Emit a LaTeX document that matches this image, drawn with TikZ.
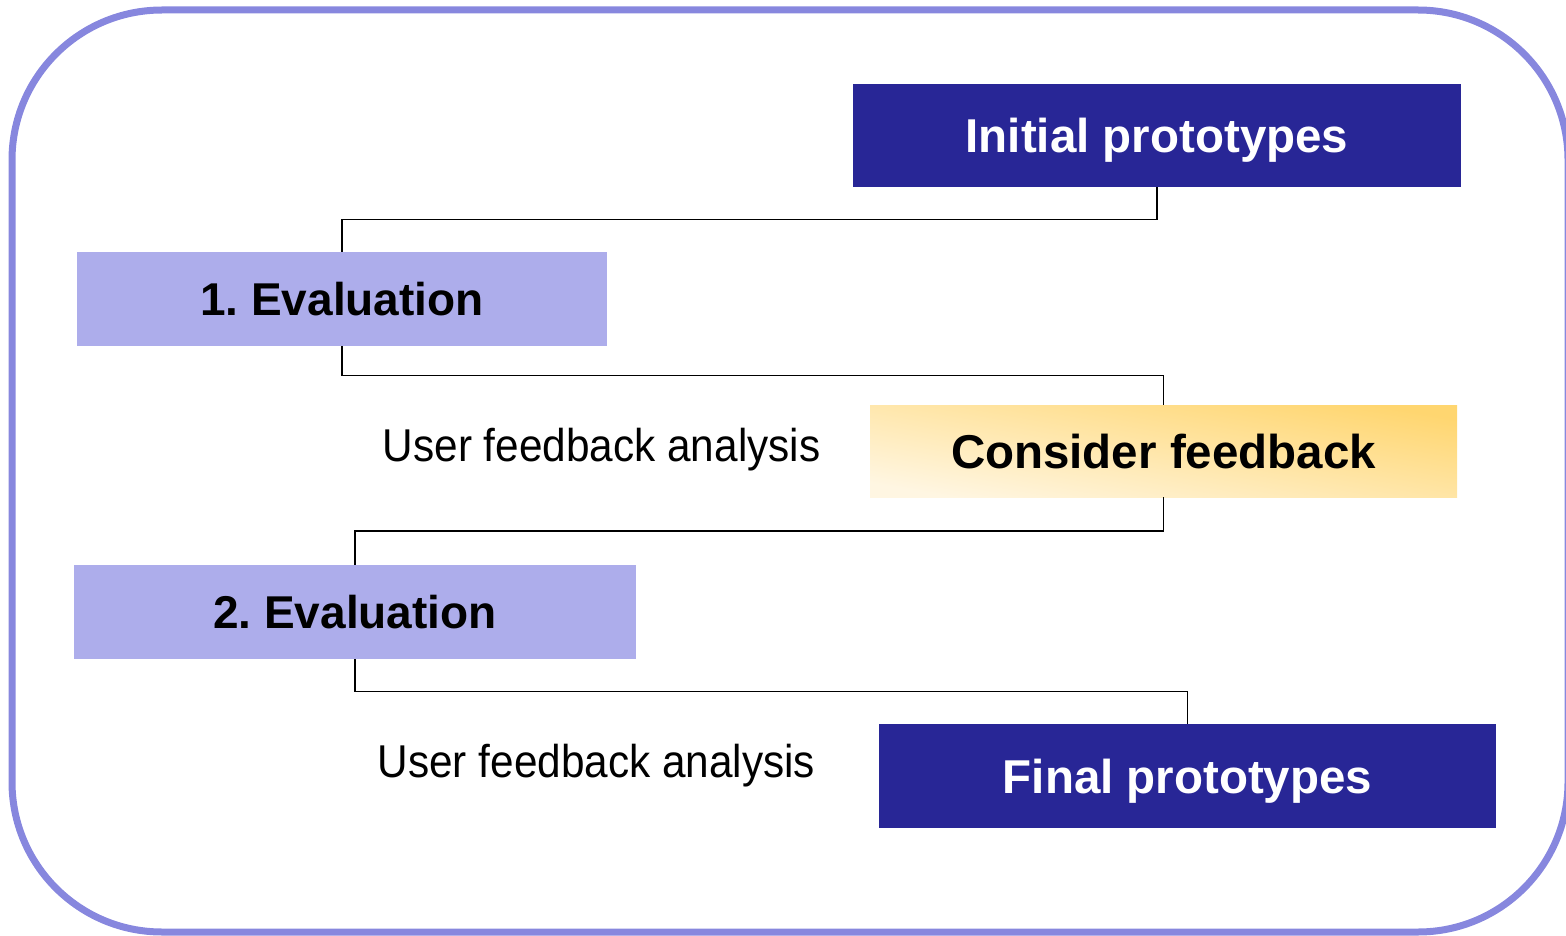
\documentclass[tikz,border=0pt]{standalone}
\usepackage{fontspec}
\setmainfont{Liberation Sans}
\usetikzlibrary{calc}
\definecolor{dkblue}{RGB}{40,38,150}
\definecolor{ltpurple}{RGB}{173,173,235}
\definecolor{framecol}{RGB}{135,135,222}
\definecolor{cream}{RGB}{255,246,226}
\definecolor{gold}{RGB}{255,214,112}
\begin{document}
\begin{tikzpicture}[x=1pt,y=-1pt,
  box/.style={inner sep=0pt, font=\bfseries\fontsize{47.5}{57}\selectfont, text height=34pt, text depth=0pt},
  darkbox/.style={box, fill=dkblue, text=white},
  evalbox/.style={box, fill=ltpurple, text=black, font=\bfseries\fontsize{46}{55}\selectfont, text height=33pt},
  note/.style={font=\fontsize{46}{55}\selectfont, anchor=base west, inner sep=0pt},
  link/.style={draw=black, line width=1.8pt}]
\clip (0,0) rectangle (1566,936);
\useasboundingbox (0,0) rectangle (1566,936);
\draw[framecol, line width=7pt, rounded corners=150pt] (12,10) rectangle (1568,932);

\node[darkbox, minimum width=608pt, minimum height=103pt] (init) at (1157,135.5) {Initial prototypes};
\node[evalbox, minimum width=530pt, minimum height=94pt] (ev1) at (342,299) {1.\ Evaluation};
\node[box, minimum width=587pt, minimum height=92pt, top color=gold, bottom color=cream, shading angle=-10] (cons) at (1163.5,451) {Consider feedback};
\node[evalbox, minimum width=562pt, minimum height=94pt] (ev2) at (355,612) {2.\ Evaluation};
\node[darkbox, minimum width=617pt, minimum height=104pt] (final) at (1187.5,776) {Final prototypes};

\node[note] (ufa1) at (382.7,461.7) {\scalebox{0.92}[1]{User feedback analysis}};
\node[note] (ufa2) at (377.5,777.7) {\scalebox{0.92}[1]{User feedback analysis}};

\coordinate (m1) at ($(init.south)!.5!(ev1.north)$);
\coordinate (m2) at ($(ev1.south)!.5!(cons.north)$);
\coordinate (m3) at ($(cons.south)!.5!(ev2.north)$);
\coordinate (m4) at ($(ev2.south)!.5!(final.north)$);
\draw[link] (init.south) |- (m1) -| (ev1.north);
\draw[link] (ev1.south) |- (m2) -| (cons.north);
\draw[link] (cons.south) |- (m3) -| (ev2.north);
\draw[link] (ev2.south) |- (m4) -| (final.north);
\end{tikzpicture}
\end{document}
